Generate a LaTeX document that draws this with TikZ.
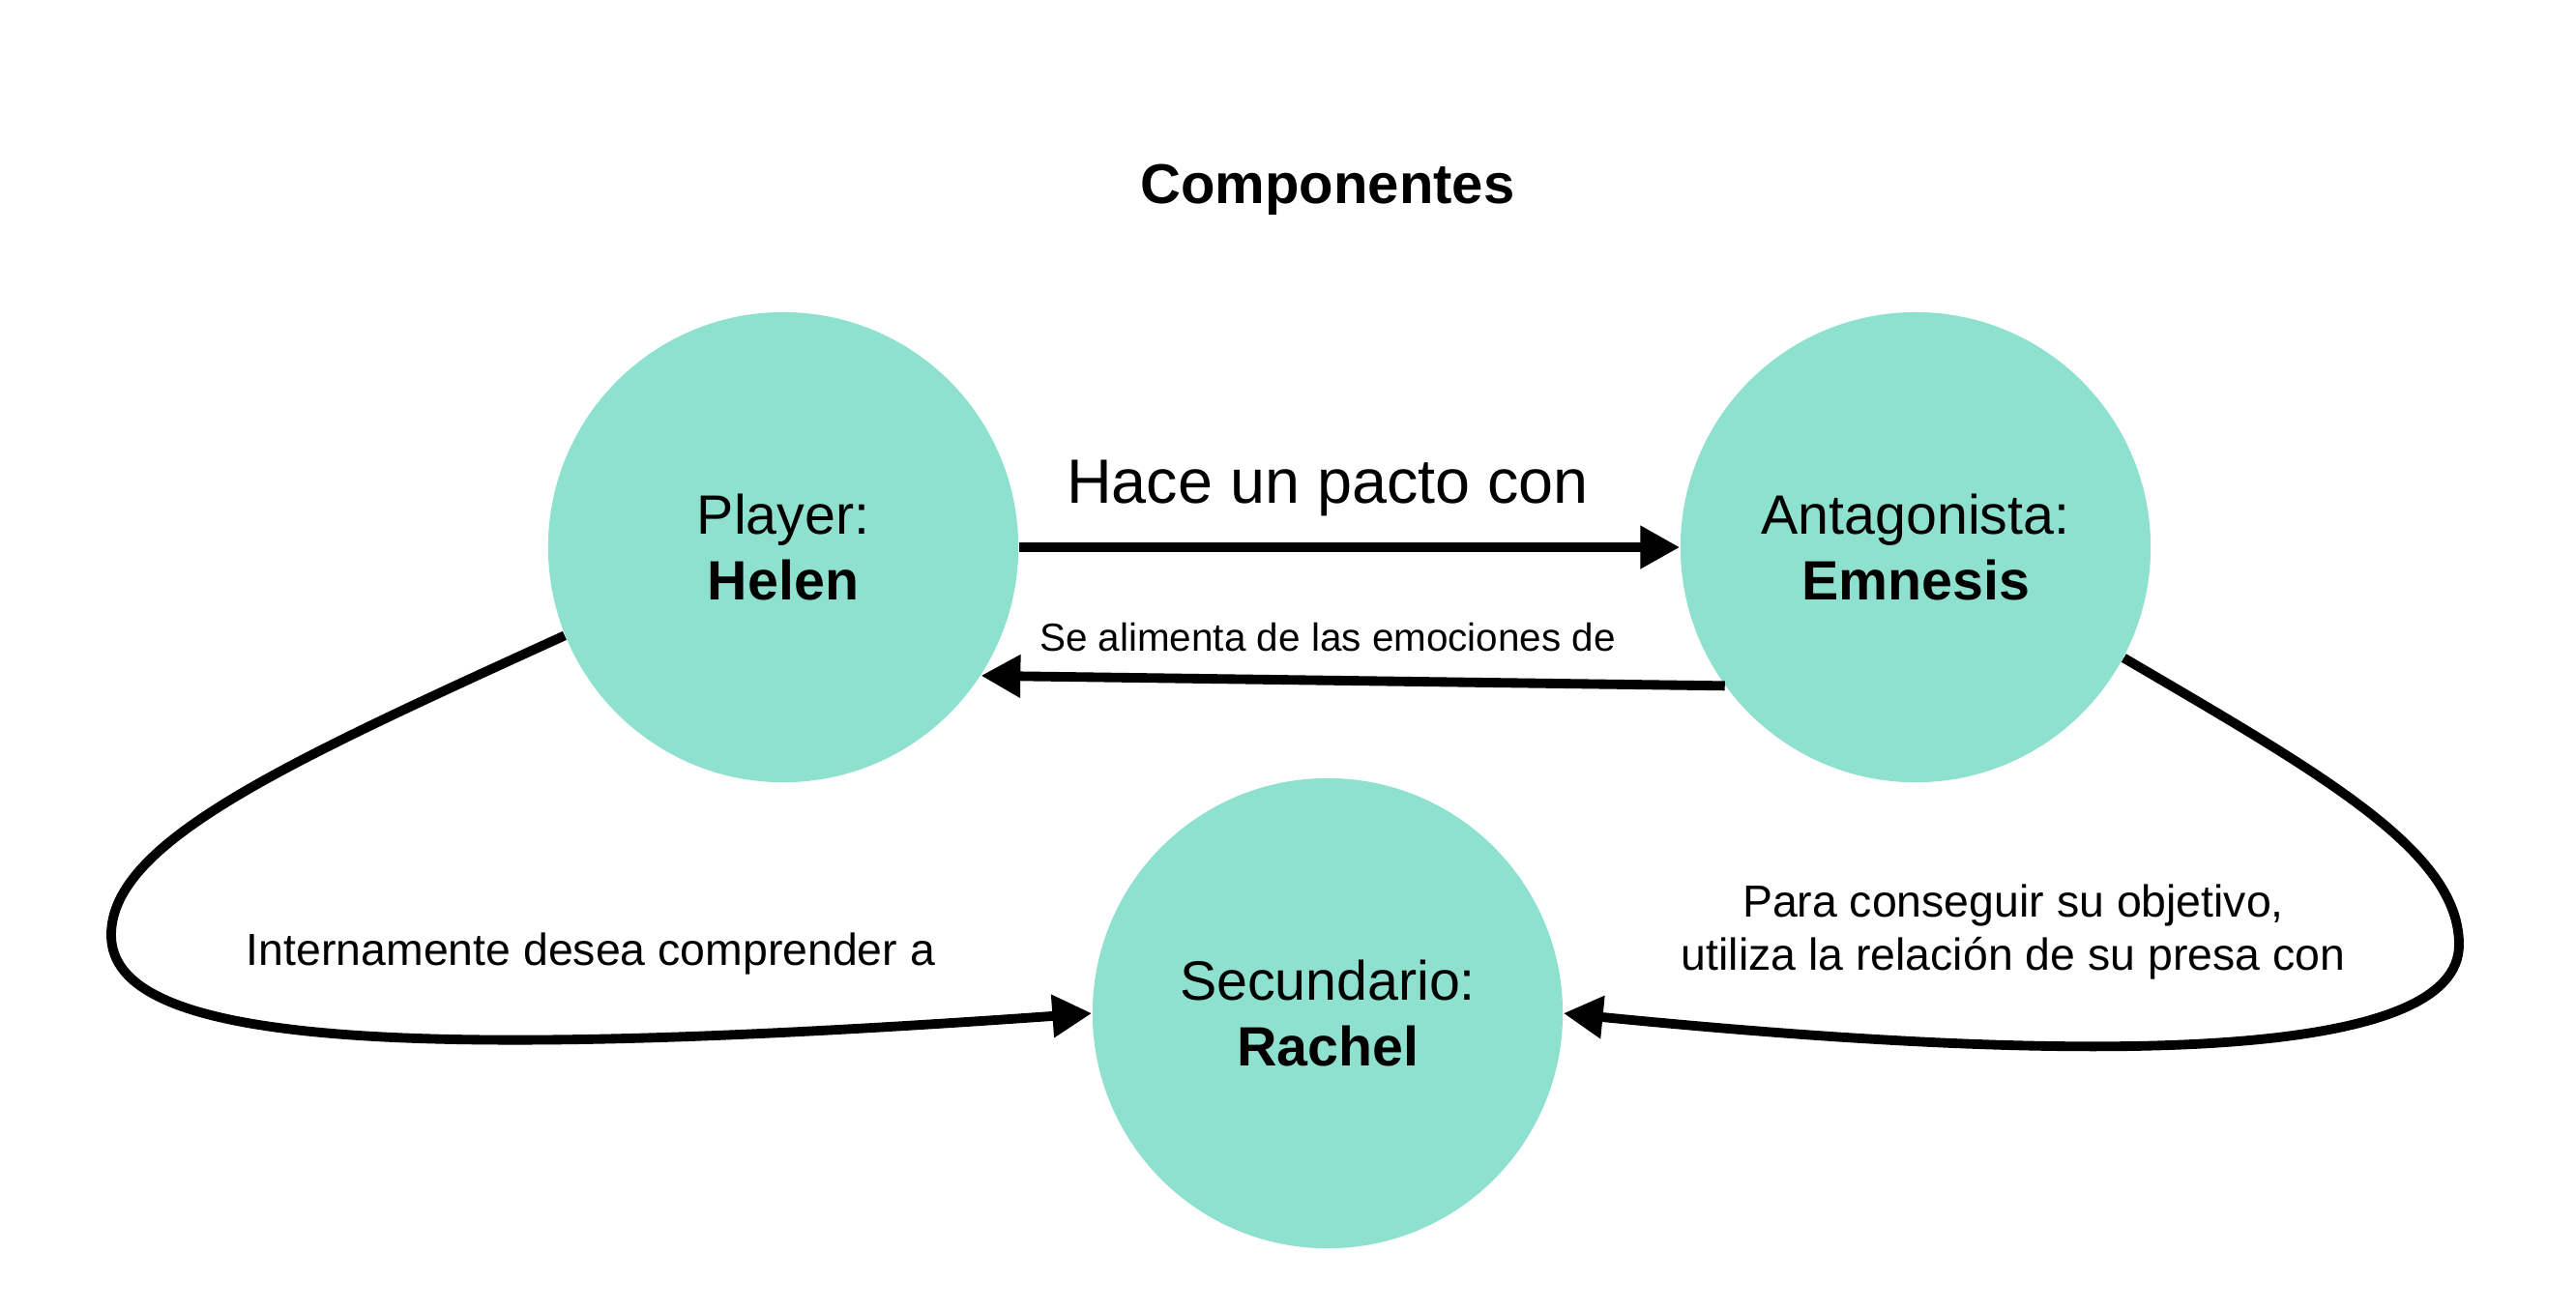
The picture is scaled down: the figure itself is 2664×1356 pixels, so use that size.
\documentclass[tikz,border=0pt]{standalone}
\usepackage{fontspec}
\setmainfont{Liberation Sans}
\usepackage{xcolor}
\usepackage{tikz}
\usetikzlibrary{positioning, arrows.meta}
\definecolor{menta}{RGB}{142,225,207}

\begin{document}
\begin{tikzpicture}[x=0.01cm, y=-0.01cm,
    persona/.style={circle, fill=menta, minimum size=4.86cm, inner sep=0pt, align=center, font=\fontsize{16.3}{19.3}\selectfont},
    flecha/.style={line width=2.8pt, -{Triangle[length=11.6pt, width=12pt]}},
    etiqueta/.style={font=\fontsize{13.2}{15.6}\selectfont, align=center}]
          \useasboundingbox (0,0) rectangle (2664,1356);

          \node[anchor=base, font=\bfseries\fontsize{16.5}{20}\selectfont] (titulo) at (1373,210) {Componentes};

          \node[persona] (helen) at (810,566) {Player:\\\textbf{Helen}};
          \node[persona] (emnesis) at (1981,566) {Antagonista:\\\textbf{Emnesis}};
          \node[persona] (rachel) at (1373,1048) {Secundario:\\\textbf{Rachel}};

          \draw[flecha] (helen) -- (emnesis);
          \node[anchor=base, font=\fontsize{18.4}{22}\selectfont] (pacto) at (1373,520) {Hace un pacto con};

          \draw[flecha] (emnesis.216) -- (helen.-33);
          \node[anchor=base, font=\fontsize{11.5}{14}\selectfont] (alimenta) at (1373,673) {Se alimenta de las emociones de};

          \draw[flecha] (helen.202) .. controls (300,787) and (115,870) .. (115,967)
                .. controls (115,1078) and (400,1100) .. (rachel.180.5);
          \node[etiqueta, anchor=base] (desea) at (611,998) {Internamente desea comprender a};

          \draw[flecha] (emnesis.-28) .. controls (2400,800) and (2543,880) .. (2543,977)
                .. controls (2543,1092) and (2200,1106) .. (rachel.-0.5);
          \node[etiqueta] (objetivo) at (2082,964) {Para conseguir su objetivo,\\utiliza la relación de su presa con};
        \end{tikzpicture}
\end{document}
